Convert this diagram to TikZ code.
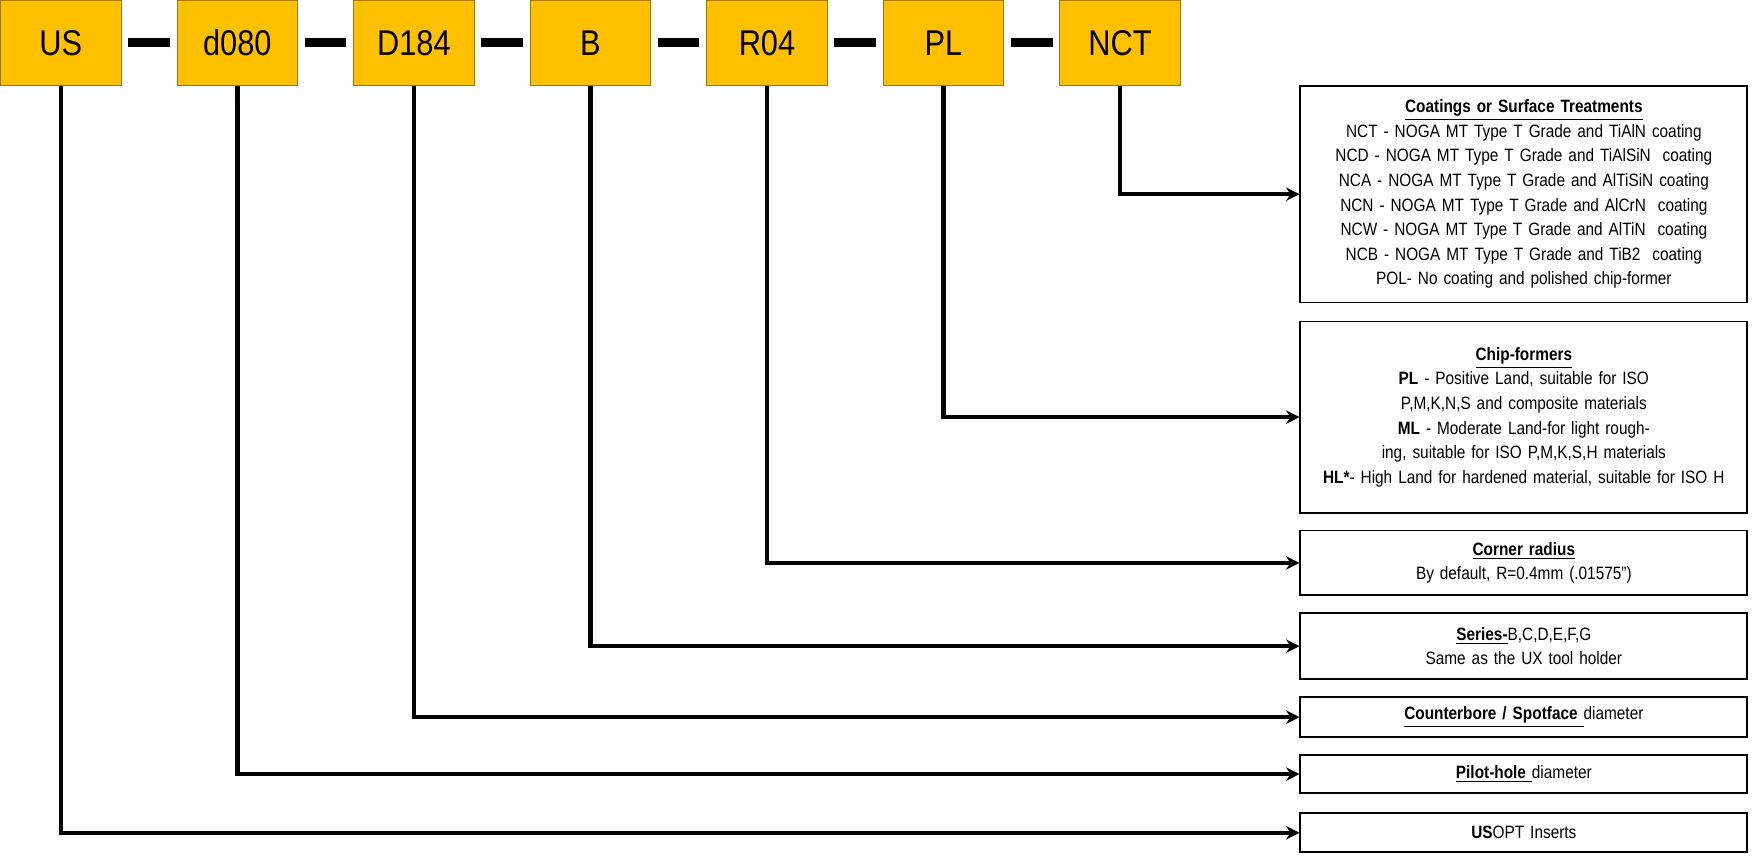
\documentclass[tikz,border=0pt]{standalone}
\usepackage{fontspec}
\setmainfont{Liberation Sans}[FakeStretch=0.86]
\usetikzlibrary{positioning,arrows.meta}
\definecolor{codegold}{HTML}{FFC000}
\definecolor{codeedge}{HTML}{A07800}
\newcommand{\uln}[1]{\underline{\textbf{#1}}}

\begin{document}
\begin{tikzpicture}[x=0.5pt, y=-0.5pt,
    codebox/.style={draw=codeedge, fill=codegold, minimum width=54pt, minimum height=38pt,
        inner sep=0pt, anchor=north west, font=\fontsize{16}{18}\selectfont},
    infobox/.style={draw, thick, anchor=north west, text width=196pt, align=center,
        inner sep=2pt, font=\fontsize{8}{11}\selectfont},
    link/.style={line width=2pt, -{Stealth[length=6pt,width=6pt]}},
    bar/.style={line width=4pt}]

\useasboundingbox (0,0) rectangle (1568,766);

% code letters
\foreach \name/\txt [count=\i from 0] in {us/US, d/d080, dd/D184, b/B, r/R04, pl/PL, nct/NCT}{
    \node[codebox] (\name) at (158*\i,0) {\txt};
}
\foreach \a/\b in {us/d, d/dd, dd/b, b/r, r/pl, pl/nct}{
    \draw[bar] ([xshift=3pt]\a.east) -- ([xshift=-3pt]\b.west);
}

% description boxes
\node[infobox, minimum height=97pt] (coat) at (1163,76) {\uln{Coatings or Surface Treatments}\\
    NCT - NOGA MT Type T Grade and TiAlN coating\\
    NCD - NOGA MT Type T Grade and TiAlSiN\ \ coating\\
    NCA - NOGA MT Type T Grade and AlTiSiN coating\\
    NCN - NOGA MT Type T Grade and AlCrN\ \ coating\\
    NCW - NOGA MT Type T Grade and AlTiN\ \ coating\\
    NCB - NOGA MT Type T Grade and TiB2\ \ coating\\
    POL- No coating and polished chip-former};
\node[infobox, minimum height=85.5pt] (chip) at (1163,287) {\uln{Chip-formers}\\
    \textbf{PL} - Positive Land, suitable for ISO P,M,K,N,S and composite materials\\
    \textbf{ML} - Moderate Land-for light roughing, suitable for ISO P,M,K,S,H materials\\
    \textbf{HL*}- High Land for hardened material, suitable for ISO H};
\node[infobox, minimum height=29pt] (corner) at (1163,474) {\uln{Corner radius}\\
    By default, R=0.4mm (.01575'')};
\node[infobox, minimum height=29.5pt] (series) at (1163,548) {\uln{Series-}B,C,D,E,F,G\\
    Same as the UX tool holder};
\node[infobox, minimum height=18pt] (cbore) at (1163,623) {\uln{Counterbore\ / Spotface\ }diameter};
\node[infobox, minimum height=17pt] (pilot) at (1163,675) {\uln{Pilot-hole\ }diameter};
\node[infobox, minimum height=17.5pt] (usopt) at (1163,727) {\textbf{US}OPT Inserts};

% connectors
\draw[link] (nct.south) |- (coat.west);
\draw[link] (pl.south) |- (chip.west);
\draw[link] (r.south) |- (corner.west);
\draw[link] (b.south) |- (series.west);
\draw[link] (dd.south) |- (cbore.west);
\draw[link] (d.south) |- (pilot.west);
\draw[link] (us.south) |- (usopt.west);

\end{tikzpicture}
\end{document}
